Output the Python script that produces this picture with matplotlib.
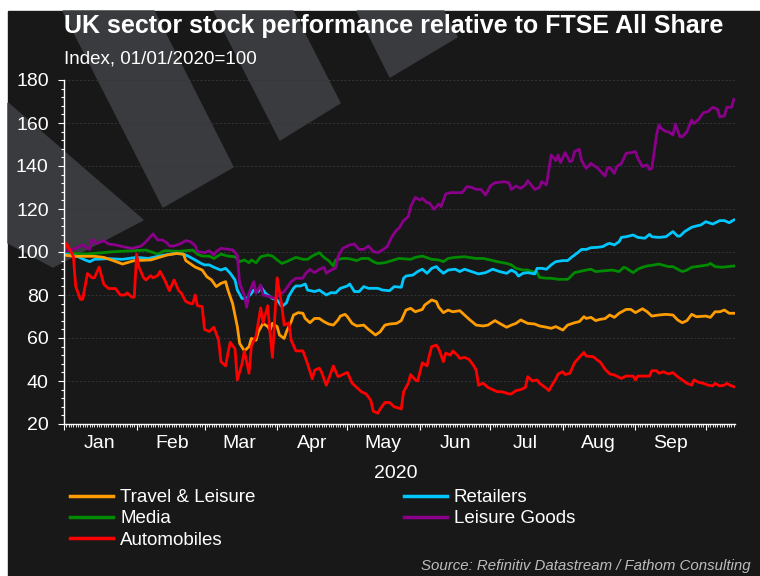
import matplotlib
matplotlib.use('Agg')
import matplotlib.pyplot as plt
import matplotlib.dates as mdates
from matplotlib.patches import Polygon, Rectangle
from matplotlib.ticker import MultipleLocator, NullFormatter
import pandas as pd

plt.rcParams['font.family'] = ['Liberation Sans', 'DejaVu Sans']

# (days since 01/01/2020, index value)
travel = [(0, 98.5), (5, 98), (13, 98), (17, 97.5), (21, 96), (25, 94.4), (30, 96), (37, 96.3),
          (44, 98.6), (48, 99.3), (51, 99), (52, 96), (56, 93), (59, 91.6), (61, 88.5), (63, 87),
          (65, 83.9), (67, 85.4), (69, 86.2), (70, 82.3), (72, 76), (74, 65.3), (75, 57.5), (77, 54),
          (79, 56), (80, 59.8), (82, 59), (83, 63), (85, 66.8), (87, 65.3), (88, 63.7), (89, 66.8),
          (91, 65.3), (92, 61.4), (94, 59.8), (95, 63), (97, 67.6), (98, 70.7), (100, 71.8), (102, 71.5),
          (103, 69.1), (105, 67.1), (107, 69.1), (109, 69.1), (111, 67.6), (113, 66.5), (115, 66),
          (117, 68.4), (118, 70.2), (120, 71), (121, 69.9), (123, 66.8), (125, 65.6), (128, 66), (130, 64),
          (133, 61.4), (135, 62.9), (137, 66), (139, 66.5), (142, 66.8), (144, 68.1), (146, 73), (148, 73.8),
          (150, 72.2), (153, 73.3), (154, 75.3), (157, 77.7), (159, 76.9), (160, 74.3), (162, 71.8),
          (164, 73), (166, 72.2), (169, 72.7), (171, 70.7), (173, 68.7), (176, 66), (179, 65.6), (181, 66),
          (184, 68.1), (186, 66.8), (189, 65), (191, 66), (193, 66.8), (195, 68.4), (198, 66.8), (201, 66.5),
          (203, 65.6), (206, 65), (208, 64.5), (210, 65.3), (213, 63.7), (215, 66), (218, 67.1), (220, 67.6),
          (222, 69.9), (223, 69.1), (225, 69.6), (227, 68.1), (229, 68.7), (231, 69), (233, 70.7),
          (235, 69.6), (237, 71.5), (240, 73.3), (242, 73.3), (244, 71.8), (247, 73.6), (249, 72.2),
          (251, 70.2), (254, 70.7), (257, 71), (260, 70.7), (262, 68.4), (264, 67.1), (266, 68.1), (268, 71),
          (270, 69.9), (274, 70.2), (276, 69.6), (278, 72.2), (280, 72.2), (282, 73), (284, 71.5), (286, 71.5)]

retail = [(0, 99), (3, 98.6), (6, 97.8), (9, 96.3), (11, 95.5), (13, 96.6), (19, 96.9), (25, 96.6),
          (31, 97.5), (36, 97), (42, 98.4), (48, 99.4), (51, 99), (53, 98.1), (56, 96.3), (58, 95), (60, 94),
          (62, 94), (64, 92.9), (67, 91.6), (69, 92.4), (71, 90.1), (73, 87), (74, 82.3), (76, 78.4),
          (78, 78.4), (80, 80.8), (81, 82.3), (83, 81.6), (84, 83.9), (86, 80.8), (88, 79.2), (89, 78.4),
          (91, 77.7), (93, 74.6), (95, 76.4), (96, 79.5), (98, 83.1), (99, 84.2), (101, 84.2), (103, 85.1),
          (104, 82.3), (107, 81.6), (109, 82.3), (112, 80), (114, 81.1), (116, 81), (118, 83.1), (121, 84.2),
          (122, 85.1), (124, 81.6), (126, 81.6), (128, 83.9), (130, 83.1), (134, 83.1), (136, 82.3), (139, 82),
          (141, 83.9), (144, 83.6), (145, 87.8), (146, 88.8), (149, 89.3), (151, 90.9), (153, 92), (155, 90.1),
          (157, 92.4), (159, 93.2), (160, 92), (162, 90.1), (164, 91.6), (167, 92), (169, 90.9), (171, 92),
          (174, 90.9), (177, 89.8), (180, 90.4), (181, 90.9), (183, 92), (186, 90.9), (189, 90.1), (191, 91.6),
          (193, 90.4), (194, 88.8), (196, 90.1), (198, 90.4), (201, 89.8), (202, 92.4), (204, 92.4), (206, 92),
          (208, 94), (210, 95.5), (213, 96), (215, 96), (217, 97.8), (219, 99.4), (221, 101.2), (223, 101.2),
          (225, 102), (228, 102.2), (230, 102.5), (232, 103.7), (233, 104), (235, 103.3), (237, 104.8),
          (238, 106.8), (240, 107.1), (243, 107.9), (245, 106.8), (248, 106.4), (250, 108.2), (251, 107.1),
          (254, 106.8), (257, 107.1), (260, 109.5), (262, 107.4), (263, 107.4), (265, 109.5), (268, 111.5),
          (270, 112.1), (272, 112.6), (274, 114.1), (277, 113), (280, 114.6), (282, 114.6), (284, 113.6),
          (286, 114.9)]

media = [(0, 99.7), (9, 99), (22, 100.2), (35, 100.9), (40, 99), (43, 100.6), (49, 100.3), (55, 100.9),
         (57, 99), (59, 98.1), (62, 98.1), (64, 97), (67, 99), (70, 98.1), (73, 97.8), (75, 95.5), (77, 96.3),
         (79, 95), (80, 96.3), (82, 95), (84, 97.8), (87, 98.6), (89, 98.1), (91, 96.3), (93, 94.7), (95, 95.5),
         (99, 97.5), (102, 96.6), (104, 96.6), (106, 98.1), (109, 99.7), (111, 97.5), (113, 96), (115, 93.5),
         (116, 96.3), (119, 97), (121, 97), (123, 96.6), (125, 96), (127, 97), (130, 97), (132, 95.5),
         (134, 94.7), (137, 95), (140, 96), (143, 97), (148, 96.6), (150, 97.5), (153, 98.1), (157, 96.6),
         (160, 96.3), (162, 95.5), (164, 97), (167, 97.5), (171, 97.8), (176, 97), (179, 97), (182, 96.3),
         (185, 95.5), (189, 94.7), (191, 94), (193, 92.4), (196, 91.6), (198, 91.6), (200, 90.9), (202, 90.4),
         (203, 88.2), (206, 87.8), (208, 87.8), (211, 87.3), (215, 87.3), (216, 88.2), (218, 90.4),
         (220, 90.9), (223, 91.6), (225, 92), (227, 90.9), (231, 91.3), (234, 91.6), (237, 90.9), (239, 92.9),
         (240, 92.5), (243, 90.4), (245, 92), (247, 92.9), (249, 93.5), (252, 94), (254, 94.4), (258, 93.2),
         (260, 93.2), (262, 92), (264, 90.9), (266, 91.6), (268, 92.9), (272, 93.5), (275, 94), (276, 94.7),
         (278, 93.2), (281, 92.9), (286, 93.5)]

leisure_goods = [(0, 100.2), (3, 100.9), (5, 101.7), (8, 103.3), (11, 101.2), (12, 105.9), (14, 104),
                 (17, 105.3), (19, 103.7), (22, 103.3), (25, 102.5), (29, 101.7), (33, 102.8), (35, 104.8),
                 (38, 108.4), (40, 105.6), (42, 105.6), (44, 104.3), (45, 102.8), (47, 102.8), (50, 104),
                 (52, 105.3), (54, 104.8), (56, 103), (57, 100.2), (60, 99.7), (62, 100.6), (64, 98.6),
                 (65, 100.2), (67, 101.7), (72, 101), (74, 98.6), (75, 85.4), (77, 80), (78, 74.3), (79, 80.8),
                 (81, 86.2), (82, 80.8), (84, 84.7), (85, 80), (88, 79.2), (90, 78.4), (92, 80), (94, 81.6),
                 (97, 86.2), (99, 87.8), (102, 87.8), (103, 89.8), (105, 91.9), (107, 90.4), (109, 91.9),
                 (111, 92.9), (112, 90.1), (114, 91.6), (116, 92.6), (117, 97.8), (119, 101.7), (122, 103.3),
                 (124, 103.7), (126, 101.2), (128, 101.2), (130, 102.8), (132, 100.2), (134, 99.7), (136, 101),
                 (138, 102.5), (140, 107.1), (142, 110.2), (143, 111), (145, 114.6), (147, 116.4), (148, 121.1),
                 (150, 125.4), (152, 124.2), (153, 125), (155, 122.9), (156, 122.9), (158, 119.8), (160, 122.3),
                 (161, 121.1), (163, 127), (165, 127.6), (170, 127.6), (172, 130.4), (174, 130.1), (176, 129.1),
                 (178, 129.1), (180, 126.5), (182, 130.7), (184, 132.2), (188, 132.7), (190, 132.2), (191, 129.1),
                 (193, 130.7), (195, 129.6), (197, 131.2), (198, 133.2), (201, 129.1), (203, 130), (204, 132.7),
                 (206, 131.2), (208, 145.1), (210, 142.5), (211, 145.1), (212, 141.6), (214, 146.2), (216, 142),
                 (217, 142.5), (218, 146.7), (220, 147.8), (221, 142.5), (223, 138.9), (225, 141.2), (227, 139.7),
                 (228, 138.9), (231, 135.3), (232, 138.9), (233, 139.4), (235, 136.6), (236, 139.7), (238, 141.2),
                 (240, 145.9), (242, 146.2), (244, 146.7), (245, 143.6), (247, 139.7), (249, 140.5), (250, 138.4),
                 (251, 138.9), (253, 154.4), (254, 159.1), (255, 157.5), (257, 156), (258, 156), (260, 154.4),
                 (261, 159.5), (263, 153.6), (264, 153.6), (266, 156), (268, 161.4), (269, 159.8), (271, 161.7),
                 (273, 164.8), (275, 165.3), (277, 167.3), (279, 166.4), (280, 162.9), (282, 163.3), (283, 167.3),
                 (285, 167.3), (286, 171)]

autos = [(0, 100), (1, 104), (4, 98), (5, 84), (7, 78), (8, 78), (10, 90), (12, 88), (13, 88), (15, 93),
         (17, 85), (19, 83), (22, 83), (24, 80), (26, 80), (27, 81), (29, 79), (30, 79), (31, 99), (32, 93),
         (34, 88), (35, 87), (37, 89), (38, 88), (40, 89), (41, 91), (43, 87), (45, 82), (47, 87), (49, 82),
         (50, 81), (52, 77), (54, 76), (55, 76), (56, 80), (57, 75), (59, 74.6), (60, 64), (62, 63), (64, 65),
         (66, 59), (67, 49), (69, 47), (70, 53), (71, 58), (73, 55), (74, 40.5), (76, 48), (77, 54), (79, 43.6),
         (80, 56), (82, 61), (84, 74), (85, 67), (87, 75), (88, 62), (89, 51), (91, 88), (93, 75), (94, 66),
         (96, 67), (97, 59), (99, 54), (102, 54), (104, 48), (106, 41), (107, 45), (109, 46), (110, 44),
         (112, 38), (114, 44), (115, 47), (117, 42), (119, 43), (121, 44), (123, 39), (125, 37), (127, 35),
         (129, 34), (131, 31), (132, 26), (134, 25), (135, 27), (137, 30), (139, 30), (141, 28), (144, 27),
         (145, 35), (147, 39), (148, 43), (150, 40.5), (151, 40), (153, 48.5), (155, 47), (156, 52), (157, 56),
         (159, 56.7), (160, 55), (162, 49), (163, 53), (165, 52), (166, 54), (168, 52), (169, 50.5), (171, 51),
         (173, 50), (175, 47), (176, 45), (177, 38), (179, 39), (181, 37), (183, 36), (185, 35), (187, 35),
         (190, 34), (191, 34), (193, 35.5), (195, 36), (197, 37), (198, 42), (200, 40), (202, 40.5), (203, 39),
         (206, 36.6), (207, 35.5), (208, 37.4), (210, 41), (211, 43.3), (213, 44.3), (214, 43), (216, 43.6),
         (218, 48.5), (220, 51), (222, 53.3), (223, 51.6), (226, 51.3), (228, 49.5), (229, 48.8), (231, 45.5),
         (233, 43.3), (235, 42.8), (238, 41.2), (240, 42.3), (243, 42.3), (244, 40.5), (245, 42.3), (248, 42.3),
         (250, 42.3), (251, 44.8), (253, 44.8), (254, 43.6), (256, 44.3), (258, 43.3), (260, 43.9), (262, 42),
         (264, 40.5), (266, 38.9), (268, 38.1), (269, 40.5), (271, 39.4), (273, 38.9), (275, 38.1), (277, 37.7),
         (278, 38.9), (280, 37.7), (282, 38.1), (283, 38.9), (285, 37.7), (286, 37.4)]

month_labels = ['Jan', 'Feb', 'Mar', 'Apr', 'May', 'Jun', 'Jul', 'Aug', 'Sep']

start = pd.Timestamp('2020-01-01')
W, H = 760, 576


def fx(px):
    return px / W


def fy(py):
    return 1 - py / H


def split(series):
    days = [d for d, v in series]
    vals = [v for d, v in series]
    return start + pd.to_timedelta(days, unit='D'), vals


fig = plt.figure(figsize=(7.6, 5.76), dpi=100)
fig.patch.set_facecolor('white')

# dark panel + faint logo watermark
fig.patches.append(Rectangle((fx(8), 0), 1, fy(11), transform=fig.transFigure,
                             color='#181818', zorder=-2))
logo = [[(63, 11), (154, 11), (233, 167), (163, 207)],
        [(214, 11), (293, 11), (340, 103), (280, 140)],
        [(357, 11), (444, 11), (457, 37), (390, 77)],
        [(8, 103), (143, 220), (53, 267), (8, 243)]]
for pts in logo:
    fig.patches.append(Polygon([(fx(x), fy(y)) for x, y in pts], closed=True,
                               transform=fig.transFigure, color='#393b3e', zorder=-1))

ax = fig.add_axes([fx(64), fy(424), (735 - 64) / W, (424 - 80) / H])
ax.set_zorder(2)
ax.set_facecolor('none')

lines = {}
for name, series, col in [('Media', media, '#008a00'),
                          ('Retailers', retail, '#00c8ff'),
                          ('Leisure Goods', leisure_goods, '#8b008b'),
                          ('Travel & Leisure', travel, '#ff9c00'),
                          ('Automobiles', autos, '#ff0000')]:
    x, y = split(series)
    lines[name], = ax.plot(x, y, color=col, lw=2.0, label=name, solid_joinstyle='round')

ax.set_ylim(20, 180)
ax.set_xlim(start, start + pd.Timedelta(days=286.5))
ax.yaxis.set_major_locator(MultipleLocator(20))
ax.yaxis.set_minor_locator(MultipleLocator(4))
ax.xaxis.set_major_locator(mdates.MonthLocator())
ax.xaxis.set_minor_locator(mdates.DayLocator())
ax.xaxis.set_major_formatter(NullFormatter())

ax.grid(axis='y', which='major', color='#353535', linestyle=(0, (2, 2)), lw=0.7)
ax.set_axisbelow(True)
for s in ['top', 'right']:
    ax.spines[s].set_visible(False)
for s in ['left', 'bottom']:
    ax.spines[s].set_color('white')
    ax.spines[s].set_linewidth(1.0)

ax.tick_params(axis='y', which='major', length=4, width=0.8, color='white',
               labelcolor='white', labelsize=14, pad=7)
ax.tick_params(axis='y', which='minor', length=2.5, width=0.8, color='white')
ax.tick_params(axis='x', which='major', length=4, width=0.8, color='white')
ax.tick_params(axis='x', which='minor', length=2, width=0.6, color='white')

for i, m in enumerate(month_labels):
    ax.text(pd.Timestamp(2020, i + 1, 16), -0.07, m, transform=ax.get_xaxis_transform(),
            ha='center', va='baseline', color='white', fontsize=14)
ax.text(0.494, -0.157, '2020', transform=ax.transAxes, ha='center', va='baseline',
        color='white', fontsize=14)

fig.text(fx(64), fy(33), 'UK sector stock performance relative to FTSE All Share',
         color='white', fontsize=18, fontweight='bold', ha='left', va='baseline')
fig.text(fx(64), fy(63), 'Index, 01/01/2020=100', color='white', fontsize=13.5,
         ha='left', va='baseline')

order = ['Travel & Leisure', 'Media', 'Automobiles', 'Retailers', 'Leisure Goods']
leg = fig.legend([lines[k] for k in order], order, loc='upper left',
                 bbox_to_anchor=(fx(70), fy(489)), ncol=2, frameon=False, fontsize=13.5,
                 handlelength=2.3, handletextpad=0.37, columnspacing=7.9,
                 labelspacing=0.22, borderpad=0, borderaxespad=0, labelcolor='white')
for h in leg.legend_handles:
    h.set_linewidth(2.5)

fig.text(fx(751), fy(570), 'Source: Refinitiv Datastream / Fathom Consulting',
         color='#bdbdbd', fontsize=10.8, style='italic', ha='right', va='baseline')

fig.savefig('out.png', dpi=100, facecolor=fig.get_facecolor())
